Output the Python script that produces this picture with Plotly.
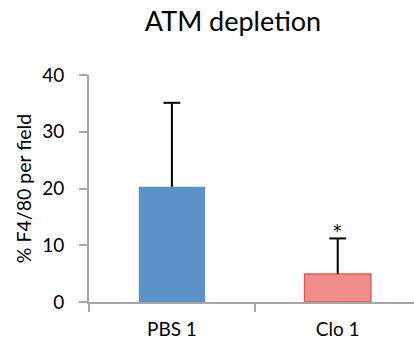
import plotly.graph_objects as go

categories = ["PBS 1", "Clo 1"]
values = [20.3, 4.95]
errors_up = [14.8, 6.25]
bar_colors = ["#5B93C9", "#F28C8B"]
bar_line_colors = ["#5B93C9", "#D6605E"]
significance = ["", "*"]
y_ticks = [0, 10, 20, 30, 40]

FONT = "Lato, 'Open Sans', sans-serif"

tops = [v + e for v, e in zip(values, errors_up)]

fig = go.Figure()
fig.add_trace(go.Bar(
    x=categories,
    y=values,
    width=0.4,
    marker=dict(color=bar_colors, line=dict(color=bar_line_colors, width=[0, 1.5])),
    error_y=dict(type="data", array=errors_up, arrayminus=[0, 0], symmetric=False,
                 color="black", thickness=2, width=0),
))
# error-bar caps (top only)
fig.add_trace(go.Scatter(
    x=categories, y=tops, mode="markers", hoverinfo="skip",
    marker=dict(symbol="line-ew", size=12, line=dict(color="black", width=2)),
))

for c, t, s in zip(categories, tops, significance):
    if s:
        fig.add_annotation(x=c, y=t, text=s, showarrow=False, yanchor="bottom",
                           yshift=-5, font=dict(family="DejaVu Sans", size=17, color="black"))

fig.update_layout(
    width=414, height=350,
    margin=dict(l=89, r=0, t=75, b=48),
    paper_bgcolor="white", plot_bgcolor="white",
    showlegend=False,
    title=dict(text="ATM depletion", x=233 / 414, xanchor="center",
               y=1 - 22 / 350, yanchor="middle", yref="container",
               font=dict(family=FONT, size=27, color="black")),
    font=dict(family=FONT, size=18, color="black"),
)
fig.update_xaxes(
    type="category", range=[-0.5, 1.46], automargin=False,
    showline=True, linecolor="#A6A6A6", linewidth=2,
    ticks="outside", tickson="boundaries", ticklen=8, tickcolor="#A6A6A6", tickwidth=2,
    showgrid=False, zeroline=False, ticklabelstandoff=9,
    tickfont=dict(family=FONT, size=19, color="black"),
)
fig.update_yaxes(
    range=[0, 40], tickvals=y_ticks, automargin=False,
    showline=True, linecolor="#A6A6A6", linewidth=2,
    ticks="outside", ticklen=8, tickcolor="#A6A6A6", tickwidth=2,
    showgrid=False, zeroline=False, ticklabelstandoff=11,
    title=dict(text="% F4/80 per field", standoff=5,
               font=dict(family=FONT, size=19.5, color="black")),
    tickfont=dict(family=FONT, size=19, color="black"),
)

fig.write_html("out.html", config={"displayModeBar": False},
               post_script="document.body.style.margin='0';")
